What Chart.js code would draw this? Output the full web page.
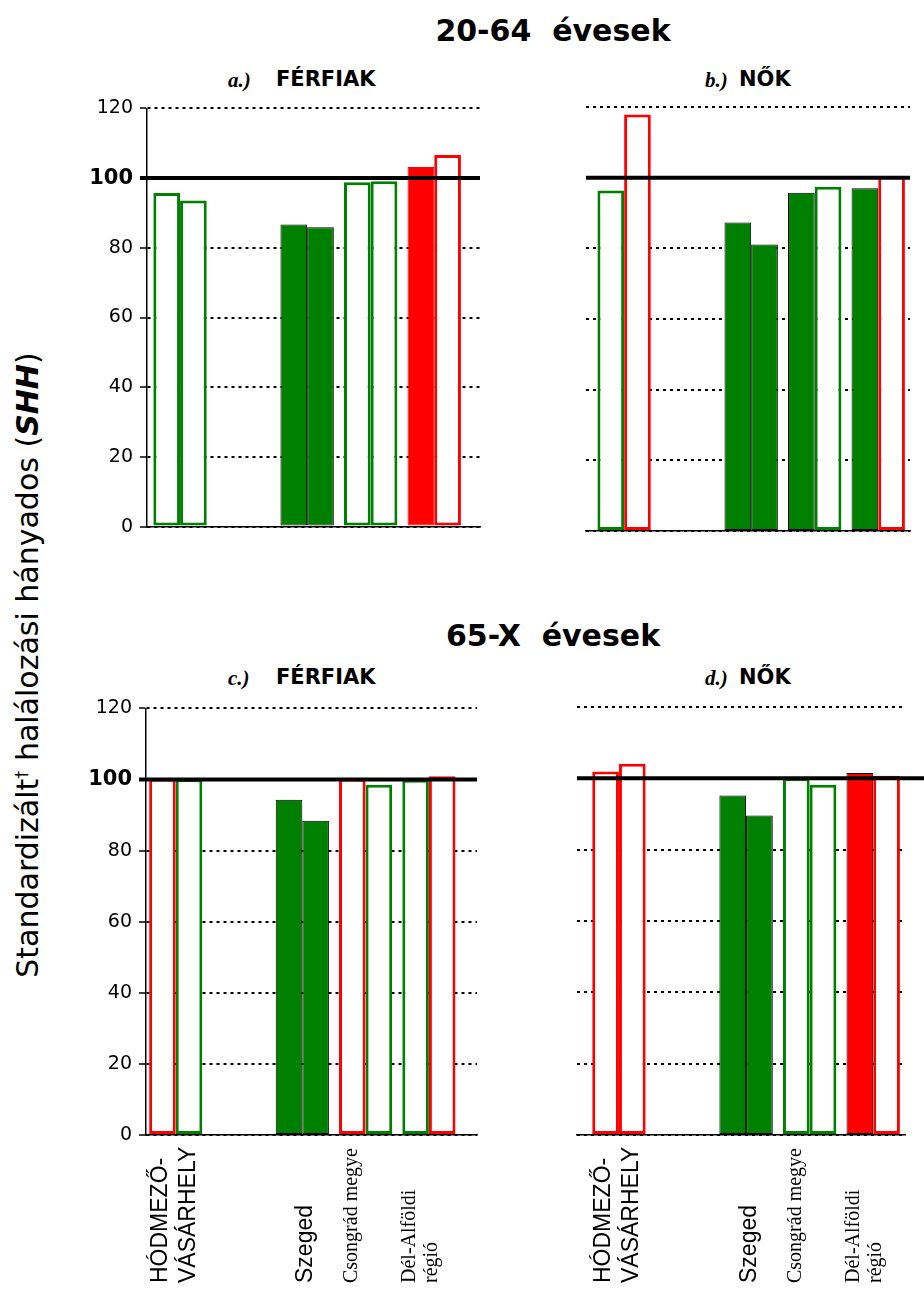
<!DOCTYPE html>
<html>
<head>
<meta charset="utf-8">
<script src="https://cdn.jsdelivr.net/npm/chart.js@4/dist/chart.umd.min.js"></script>
<style>
  body { margin: 0; background: #fff; }
  #page { position: relative; width: 924px; height: 1290px; overflow: hidden; background: #fff; }
  canvas { position: absolute; }
  .t { position: absolute; white-space: pre; color: #000; line-height: 1; }
  .big { font: bold 30px "DejaVu Sans"; transform: translateX(-50%); }
  .sub { font: bold 21px "DejaVu Sans"; }
  .lt { font: bold italic 21px "Liberation Serif"; }
  #ytitle { position: absolute; left: 28px; top: 665px; white-space: pre; font: 30px "DejaVu Sans";
            transform: translate(-50%, -50%) rotate(-90deg); line-height: 1; }
  #ytitle sup { font-size: 16px; }
  #ytitle b { font-style: italic; }
</style>
</head>
<body>
<div id="page">
  <div class="t big" style="left:553px; top:13px;">20-64  évesek</div>
  <div class="t lt" style="left:228px; top:68px;">a.)</div>
  <div class="t sub" style="left:276px; top:67px;">FÉRFIAK</div>
  <div class="t lt" style="left:705px; top:68px;">b.)</div>
  <div class="t sub" style="left:739px; top:67px;">NŐK</div>
  <div class="t big" style="left:553px; top:618px;">65-X  évesek</div>
  <div class="t lt" style="left:228px; top:666px;">c.)</div>
  <div class="t sub" style="left:276px; top:665px;">FÉRFIAK</div>
  <div class="t lt" style="left:705px; top:666px;">d.)</div>
  <div class="t sub" style="left:739px; top:665px;">NŐK</div>
  <div id="ytitle">Standardizált<sup>†</sup> halálozási hányados (<b>SHH</b>)</div>

  <canvas id="chartA" width="440" height="455" style="left:60px; top:90px;"></canvas>
  <canvas id="chartB" width="348" height="455" style="left:576px; top:90px;"></canvas>
  <canvas id="chartC" width="440" height="600" style="left:60px; top:690px;"></canvas>
  <canvas id="chartD" width="357" height="600" style="left:567px; top:690px;"></canvas>
</div>

<script>
// kategóriák (a 2. hely üres)
const categories = [['HÓDMEZŐ-', 'VÁSÁRHELY'], '', 'Szeged', 'Csongrád megye', ['Dél-Alföldi', 'régió']];
const yTicks = [0, 20, 40, 60, 80, 100, 120];

// a.) 20-64 férfiak
const a1 = [95.7, null, 86.7, 98.8, 103.2];
const a2 = [93.6, null, 85.9, 99.1, 106.6];
// b.) 20-64 nők
const b1 = [96.4, null, 87.3, 95.7, 97.0];
const b2 = [117.9, null, 81.1, 97.4, 100.4];
// c.) 65-X férfiak
const c1 = [100.2, null, 94.3, 100.2, 99.9];
const c2 = [100.1, null, 88.4, 98.5, 100.9];
// d.) 65-X nők
const d1 = [101.9, null, 95.2, 100.1, 101.5];
const d2 = [104.1, null, 89.6, 98.2, 100.7];

// oszlop stílusok: h = üres (keretes), f = kitöltött; g = zöld, r = piros
const STY = {
  hg: { bg: '#ffffff', bc: '#008000', bw: 3 },
  hr: { bg: '#ffffff', bc: '#ff0000', bw: 3 },
  fg: { bg: '#008000', bc: '#000000', bw: 1 },
  fr: { bg: '#ff0000', bc: '#ff0000', bw: 1 },
  frk: { bg: '#ff0000', bc: '#000000', bw: 1 },
  '': { bg: 'transparent', bc: 'transparent', bw: 0 }
};

// vastag 100-as vonal az oszlopok fölött
const refLine = {
  id: 'refLine',
  afterDatasetsDraw(chart, args, opts) {
    const { ctx, chartArea } = chart;
    const y = chart.scales.y.getPixelForValue(100);
    ctx.save();
    ctx.strokeStyle = '#000';
    ctx.lineWidth = 4;
    ctx.beginPath();
    ctx.moveTo(chartArea.left - (opts.extL || 0), y);
    ctx.lineTo(chartArea.right + (opts.extR || 0), y);
    ctx.stroke();
    ctx.restore();
  }
};

// függőleges kategória feliratok alul
const labelFonts = ['23px "Liberation Sans"', '', '23px "Liberation Sans"', '20px "Liberation Serif"', '20px "Liberation Serif"'];
const labelShift = [-9, 0, 10, -9, -14];
const labelLine = [28, 0, 0, 0, 22];
const xLabels = {
  id: 'xLabels',
  afterDraw(chart, args, opts) {
    if (!opts.show) return;
    const { ctx } = chart;
    const xs = chart.scales.x;
    ctx.save();
    ctx.fillStyle = '#000';
    ctx.textAlign = 'left';
    ctx.textBaseline = 'alphabetic';
    categories.forEach((lab, i) => {
      if (!lab) return;
      const lines = Array.isArray(lab) ? lab : [lab];
      const x = xs.getPixelForValue(i) + labelShift[i];
      ctx.save();
      ctx.translate(x, opts.bottom);
      ctx.rotate(-Math.PI / 2);
      ctx.font = labelFonts[i];
      lines.forEach((ln, k) => ctx.fillText(ln, 0, k * labelLine[i]));
      ctx.restore();
    });
    ctx.restore();
  }
};

function makePanel(id, p) {
  const ds = (vals, sty) => ({
    data: vals.map((v, i) => ({ x: i, y: v })),
    backgroundColor: sty.map(s => STY[s].bg),
    borderColor: sty.map(s => STY[s].bc),
    borderWidth: sty.map(s => STY[s].bw),
    borderSkipped: false,
    categoryPercentage: 0.84,
    barPercentage: 1
  });
  return new Chart(document.getElementById(id), {
    type: 'bar',
    data: { datasets: [ds(p.v1, p.s1), ds(p.v2, p.s2)] },
    options: {
      responsive: false,
      animation: false,
      layout: { padding: p.pad },
      plugins: {
        legend: { display: false },
        tooltip: { enabled: false },
        refLine: { extL: p.extL, extR: p.extR },
        xLabels: { show: p.labels, bottom: p.labelBottom }
      },
      scales: {
        x: {
          type: 'linear',
          offset: false,
          min: p.xmin,
          max: p.xmax,
          ticks: { display: false, stepSize: 1, includeBounds: false },
          grid: { display: false, drawTicks: false, tickLength: 0 },
          border: { display: true, color: '#000', width: 1.5 }
        },
        y: {
          min: 0,
          max: 120,
          afterBuildTicks: s => { s.ticks = yTicks.map(v => ({ value: v })); },
          afterFit: s => { s.width = p.yw; },
          ticks: {
            display: p.yAxis,
            color: '#000',
            padding: 7,
            font: c => (c.tick && c.tick.value === 100)
              ? { family: 'DejaVu Sans', size: 21, weight: 'bold' }
              : { family: 'DejaVu Sans', size: 19 }
          },
          grid: {
            color: '#000',
            lineWidth: 2,
            drawTicks: p.yAxis,
            tickLength: 7,
            tickColor: '#000',
            tickWidth: 1.5
          },
          border: { display: p.yAxis, color: '#000', width: 1.5, dash: [3, 4] }
        }
      }
    },
    plugins: [refLine, xLabels]
  });
}

makePanel('chartA', {
  v1: a1, v2: a2,
  s1: ['hg', '', 'fg', 'hg', 'fr'],
  s2: ['hg', '', 'fg', 'hg', 'hr'],
  xmin: -0.52, xmax: 4.72, yw: 87, yAxis: true, labels: false,
  pad: { left: 0, top: 17, right: 20, bottom: 14 }, extL: 7, extR: 0
});
makePanel('chartB', {
  v1: b1, v2: b2,
  s1: ['hg', '', 'fg', 'fg', 'fg'],
  s2: ['hr', '', 'fg', 'hg', 'hr'],
  xmin: -0.6, xmax: 4.5, yw: 0, yAxis: false, labels: false,
  pad: { left: 10, top: 17, right: 14, bottom: 14 }, extL: 0, extR: 0
});
makePanel('chartC', {
  v1: c1, v2: c2,
  s1: ['hr', '', 'fg', 'hr', 'hg'],
  s2: ['hg', '', 'fg', 'hg', 'hr'],
  xmin: -0.47, xmax: 4.76, yw: 86, yAxis: true, labels: true, labelBottom: 593,
  pad: { left: 0, top: 17, right: 23, bottom: 155 }, extL: 7, extR: 0
});
makePanel('chartD', {
  v1: d1, v2: d2,
  s1: ['hr', '', 'fg', 'hg', 'frk'],
  s2: ['hr', '', 'fg', 'hg', 'hr'],
  xmin: -0.66, xmax: 4.5, yw: 0, yAxis: false, labels: true, labelBottom: 593,
  pad: { left: 10, top: 17, right: 19, bottom: 155 }, extL: 0, extR: 19
});
</script>
</body>
</html>
